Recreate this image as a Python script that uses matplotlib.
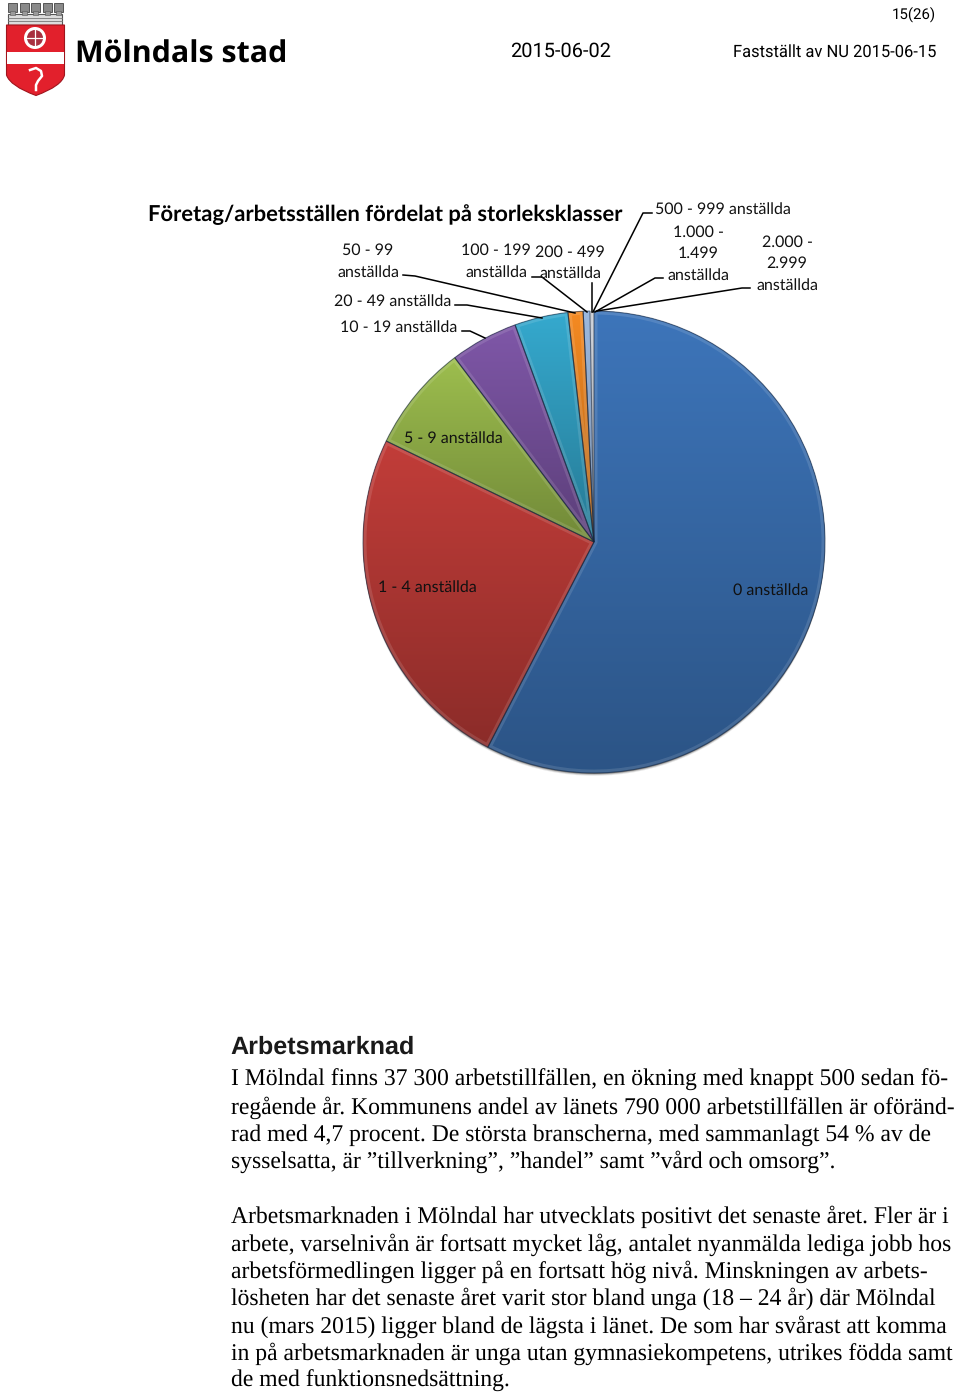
import numpy as np
import matplotlib
matplotlib.use('Agg')
from matplotlib import pyplot as plt
from matplotlib.colors import to_rgb
from matplotlib.patches import Circle, PathPatch, Rectangle, Wedge
from matplotlib.path import Path

plt.rcParams['text.hinting'] = 'no_hinting'
plt.rcParams['text.hinting_factor'] = 8

# pie data, percent
categories = ['0 anställda', '1 - 4 anställda', '5 - 9 anställda', '10 - 19 anställda',
              '20 - 49 anställda', '50 - 99 anställda', '100 - 199 anställda',
              '200 - 499 anställda', '500 - 999 anställda', '1.000 - 1.499 anställda',
              '2.000 - 2.999 anställda']
values = [57.6, 24.6, 7.5, 4.75, 3.75, 1.05, 0.47, 0.12, 0.08, 0.05, 0.03]
colors = ['#3D75BA', '#C23D39', '#9DBE4E', '#7F57A8', '#35A9CE', '#F58A22',
          '#8FB0DC', '#D0D4DC', '#D4D8DE', '#D8DCE2', '#C8CCD8']

title = 'Företag/arbetsställen fördelat på storleksklasser'
heading = 'Arbetsmarknad'
para1 = ['I Mölndal finns 37 300 arbetstillfällen, en ökning med knappt 500 sedan fö-',
         'regående år. Kommunens andel av länets 790 000 arbetstillfällen är oföränd-',
         'rad med 4,7 procent. De största branscherna, med sammanlagt 54 % av de',
         'sysselsatta, är ”tillverkning”, ”handel” samt ”vård och omsorg”.']
para2 = ['Arbetsmarknaden i Mölndal har utvecklats positivt det senaste året. Fler är i',
         'arbete, varselnivån är fortsatt mycket låg, antalet nyanmälda lediga jobb hos',
         'arbetsförmedlingen ligger på en fortsatt hög nivå. Minskningen av arbets-',
         'lösheten har det senaste året varit stor bland unga (18 – 24 år) där Mölndal',
         'nu (mars 2015) ligger bland de lägsta i länet. De som har svårast att komma',
         'in på arbetsmarknaden är unga utan gymnasiekompetens, utrikes födda samt',
         'de med funktionsnedsättning.']

W, H = 960, 1392
cx, cy, r = 594, 542, 231

fig = plt.figure(figsize=(W / 100, H / 100), dpi=100, facecolor='white')

# pie
ax = fig.add_axes([(cx - r) / W, 1 - (cy + r) / H, 2 * r / W, 2 * r / H])
wedges, _ = ax.pie(values, colors=colors, startangle=90, counterclock=False, radius=1)
ax.axis('off')

# soft shadow under the pie
for dy, a in zip((0.004, 0.008, 0.012), (0.5, 0.25, 0.12)):
    ax.add_patch(Circle((0, -dy), 1.0, fc='#333333', ec='none', alpha=a, zorder=0.5, clip_on=False))

for w, c, v in zip(wedges, colors, values):
    box = w.get_patch_transform().transform_path(w.get_path()).get_extents()
    base = np.array(to_rgb(c))
    shade = np.linspace(1.0, 0.72, 64)[:, None, None] * base[None, None, :]
    im = ax.imshow(shade, extent=[box.x0, box.x1, box.y0, box.y1], origin='upper',
                   aspect='auto', zorder=2, interpolation='bilinear')
    im.set_clip_path(w)
    if v < 0.4:
        continue
    # bevel and dark seam
    rim = Wedge(w.center, w.r, w.theta1, w.theta2, fc='none', ec='white', lw=5, alpha=0.12, zorder=3)
    ax.add_patch(rim)
    rim.set_clip_path(w)
    ax.add_patch(Wedge(w.center, w.r, w.theta1, w.theta2, fc='none', ec='#14233a', lw=0.8,
                       alpha=0.55, zorder=4, clip_on=False))
ax.set_xlim(-1, 1)
ax.set_ylim(-1, 1)

# page overlay in pixels
pg = fig.add_axes([0, 0, 1, 1], facecolor='none')
pg.set_xlim(0, W)
pg.set_ylim(H, 0)
pg.axis('off')


def txt(x, y, s, size, family='Lato', weight='normal', ha='center', color='black'):
    pg.text(x, y + 1.5, s, fontsize=size * 0.72, family=family, weight=weight, ha=ha, va='center', color=color)


# logo
pg.add_patch(Rectangle((8, 14), 54, 11, fc='#dcdcdc', ec='#555555', lw=0.8))
for y in (17.5, 21):
    pg.plot([8, 62], [y, y], color='#777777', lw=0.6)
for x in (8, 19.5, 31, 42.5, 53.5):
    pg.add_patch(Rectangle((x, 3), 9, 9, fc='#8a8a8a', ec='#444444', lw=0.6))
    pg.add_patch(Rectangle((x + 2, 11), 5, 4, fc='#9a9a9a', ec='#555555', lw=0.4))
shield = Path([(6.5, 25), (64.5, 25), (64.5, 75), (64.5, 75), (62, 86), (36, 95.5), (36, 95.5),
               (10, 86), (6.5, 75), (6.5, 75), (6.5, 25)],
              [Path.MOVETO, Path.LINETO, Path.LINETO, Path.LINETO, Path.CURVE3, Path.CURVE3,
               Path.LINETO, Path.CURVE3, Path.CURVE3, Path.LINETO, Path.CLOSEPOLY])
pg.add_patch(PathPatch(shield, fc='#e2202c', ec='#a0141c', lw=0.8))
pg.add_patch(Rectangle((7, 52), 57, 12, fc='white', ec='none'))
pg.add_patch(Circle((35, 38), 11, fc='white', ec='none'))
pg.add_patch(Circle((35, 38), 8, fc='#a83040', ec='none'))
pg.plot([35, 35], [30, 46], color='white', lw=0.9)
pg.plot([27, 43], [38, 38], color='white', lw=0.9)
pg.plot([30, 36, 41, 42, 38, 36, 36], [70, 68, 71, 76, 81, 85, 90], color='white', lw=1.8)
txt(75, 53, 'Mölndals stad', 30.4, family='Open Sans', weight='bold', ha='left')

# header
txt(936, 13, '15(26)', 15, family='Roboto', ha='right')
txt(510, 50, '2015-06-02', 20, family='Roboto', ha='left')
txt(936, 51, 'Fastställt av NU 2015-06-15', 16.5, family='Roboto', ha='right')

# chart title
txt(148, 213, title, 22, weight='bold', ha='left')

# data labels
lab_x = [368, 368, 496, 496, 570, 570, 723, 698, 698, 698, 787, 787, 787, 393, 399, 453, 427, 771]
lab_y = [249, 271, 249, 271, 251, 272, 208, 231, 252, 274, 241, 262, 284, 300, 326, 437, 586, 589]
lab_s = ['50 - 99', 'anställda', '100 - 199', 'anställda', '200 - 499', 'anställda',
         '500 - 999 anställda', '1.000 -', '1.499', 'anställda', '2.000 -', '2.999', 'anställda',
         '20 - 49 anställda', '10 - 19 anställda', '5 - 9 anställda', '1 - 4 anställda', '0 anställda']
for x, y, s in zip(lab_x, lab_y, lab_s):
    txt(x, y, s, 16, color='#111111')

# leader lines
leaders = [([403, 415, 575], [275, 276, 313]),
           ([455, 467, 542], [305, 305, 318]),
           ([462, 470, 485], [331, 331, 338]),
           ([532, 542, 587], [277, 277, 312]),
           ([592, 592], [283, 312]),
           ([652, 643, 593], [213, 213, 312]),
           ([663, 655, 595], [278, 278, 312]),
           ([750, 742, 597], [288, 288, 311])]
for xs, ys in leaders:
    pg.plot(xs, ys, color='black', lw=1.1)

# body text
txt(230, 1045.5, heading, 25.1, family='Liberation Sans', weight='bold', ha='left', color='#1a1a1a')
for i, line in enumerate(para1):
    txt(231, 1078.5 + i * 27.4, line, 23.62, family='Liberation Serif', ha='left')
for i, line in enumerate(para2):
    txt(231, 1215.5 + i * 27.4, line, 23.62, family='Liberation Serif', ha='left')

fig.savefig('out.png', dpi=100)
